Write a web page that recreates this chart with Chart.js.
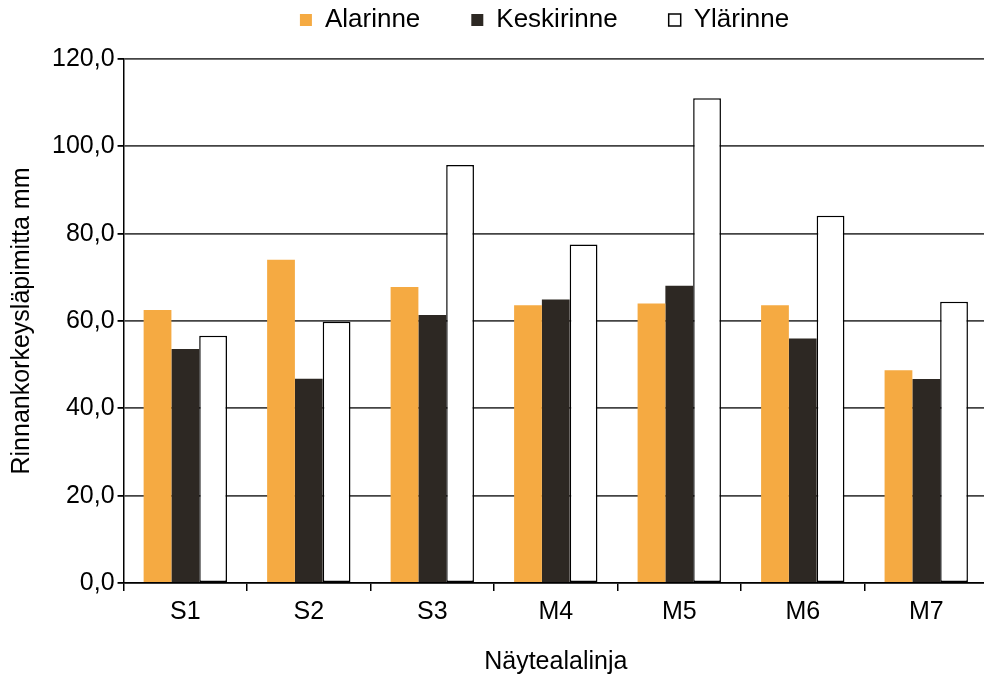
<!DOCTYPE html>
<html>
<head>
<meta charset="utf-8">
<script src="https://cdn.jsdelivr.net/npm/chart.js@4/dist/chart.umd.min.js"></script>
<style>
  html, body { margin: 0; padding: 0; background: #fff; overflow: hidden; }
  #wrap { position: relative; width: 990px; height: 679px; }
</style>
</head>
<body>
<div id="wrap"><canvas id="chart"></canvas></div>
<script>
// Sample lines along the slope
const categories = ['S1', 'S2', 'S3', 'M4', 'M5', 'M6', 'M7'];

// Breast-height diameter (mm) per slope position
const alarinne   = [62.5, 74.0, 67.8, 63.6, 64.0, 63.6, 48.7];
const keskirinne = [53.6, 46.8, 61.4, 64.9, 68.1, 56.0, 46.7];
const ylarinne   = [56.6, 59.8, 95.7, 77.5, 111.0, 84.1, 64.4];

const seriesNames = ['Alarinne', 'Keskirinne', 'Ylärinne'];
const yAxisTitle = 'Rinnankorkeysläpimitta mm';
const xAxisTitle = 'Näytealalinja';

const FONT = "'Liberation Sans', Arial, sans-serif";
const LEGEND_GAP = 51;       // horizontal space between legend items
const LEGEND_EXTRA = 16;     // extra room under the legend row
const LEGEND_SHIFT = 49;     // legend sits centred over the plot area, not the canvas

// Gives the legend extra room below it and nudges it right over the plot
const legendRoom = {
  id: 'legendRoom',
  beforeInit(chart) {
    const legend = chart.legend;
    if (!legend) return;
    const fit = legend.fit;
    legend.fit = function () {
      fit.call(this);
      this.height += LEGEND_EXTRA;
    };
    const draw = legend.draw;
    legend.draw = function () {
      const c = this.ctx;
      c.save();
      c.translate(LEGEND_SHIFT, 0);
      draw.call(this);
      c.restore();
    };
  }
};

const ctx = document.getElementById('chart');
new Chart(ctx, {
  type: 'bar',
  data: {
    labels: categories,
    datasets: [
      { label: seriesNames[0], data: alarinne,   backgroundColor: '#F5AA42', borderWidth: 0 },
      { label: seriesNames[1], data: keskirinne, backgroundColor: '#2D2823', borderWidth: 0 },
      { label: seriesNames[2], data: ylarinne,   backgroundColor: '#FFFFFF', borderColor: '#000000', borderWidth: 1.5, borderSkipped: false }
    ]
  },
  plugins: [legendRoom],
  options: {
    responsive: true,
    maintainAspectRatio: false,
    animation: false,
    layout: { padding: { left: 3, right: 2, top: 7 - LEGEND_GAP, bottom: 0 } },
    datasets: {
      bar: { categoryPercentage: 0.675, barPercentage: 1.0 }
    },
    plugins: {
      tooltip: { enabled: false },
      legend: {
        position: 'top',
        align: 'center',
        labels: {
          color: '#000',
          font: { family: FONT, size: 26 },
          boxWidth: 12,
          boxHeight: 12,
          padding: LEGEND_GAP
        }
      }
    },
    scales: {
      x: {
        grid: {
          offset: true,
          drawOnChartArea: false,
          drawTicks: true,
          tickLength: 8,
          color: '#000',
          lineWidth: 1.5
        },
        border: { display: true, color: '#000', width: 1.5 },
        ticks: {
          color: '#000',
          font: { family: FONT, size: 25 },
          padding: 6
        },
        title: {
          display: true,
          text: xAxisTitle,
          color: '#000',
          font: { family: FONT, size: 25 },
          padding: { top: 14, bottom: 2 }
        }
      },
      y: {
        min: 0,
        max: 120,
        ticks: {
          stepSize: 20,
          color: '#000',
          font: { family: FONT, size: 25 },
          padding: 3,
          callback: v => v.toFixed(1).replace('.', ',')
        },
        grid: {
          color: '#444',
          lineWidth: 1.8,
          tickLength: 6,
          tickColor: '#000'
        },
        border: { display: true, color: '#000', width: 1.5 },
        title: {
          display: true,
          text: yAxisTitle,
          color: '#000',
          font: { family: FONT, size: 25 },
          padding: { top: 4, bottom: 12 }
        }
      }
    }
  }
});
</script>
</body>
</html>
